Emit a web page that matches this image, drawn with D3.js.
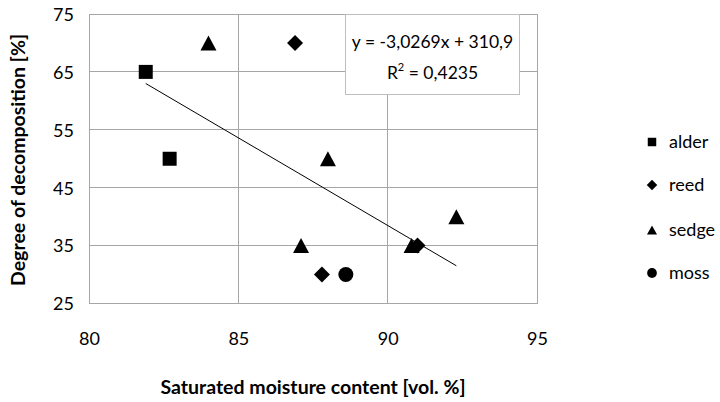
<!DOCTYPE html>
<html><head><meta charset="utf-8">
<script src="https://cdn.jsdelivr.net/npm/d3@7"></script>
<style>body{margin:0;background:#fff}svg{display:block}text{font-family:Lato,"Open Sans",sans-serif}</style>
</head><body><svg id="c" width="720" height="402"></svg>
<script>
const seriesNames = ["alder","reed","sedge","moss"];
const alderX = [81.9, 82.7];
const alderY = [65, 50];
const reedX = [86.9, 87.8, 91.0];
const reedY = [70, 30, 35];
const sedgeX = [84.0, 88.0, 87.1, 92.3, 90.8];
const sedgeY = [70, 50, 35, 40, 35];
const mossX = [88.6];
const mossY = [30];
const xTicks = [80, 85, 90, 95];
const yTicks = [25, 35, 45, 55, 65, 75];
const slope = -3.0269, intercept = 310.9;
const eqText = "y = -3,0269x + 310,9";
const r2Text = " = 0,4235";

const svg = d3.select("#c");
const L = 89, R = 537, T = 14, B = 303.5;
const x = d3.scaleLinear().domain([80,95]).range([L,R]);
const y = d3.scaleLinear().domain([25,75]).range([B,T]);
const grid = "#a6a6a6";
const FS = 18;

// gridlines
svg.append("g").selectAll("line").data(xTicks).join("line")
  .attr("x1",d=>x(d)).attr("x2",d=>x(d)).attr("y1",T).attr("y2",B)
  .attr("stroke",grid).attr("stroke-width",1).attr("shape-rendering","crispEdges");
svg.append("g").selectAll("line").data(yTicks).join("line")
  .attr("x1",L).attr("x2",R).attr("y1",d=>y(d)).attr("y2",d=>y(d))
  .attr("stroke",grid).attr("stroke-width",1).attr("shape-rendering","crispEdges");

// axes labels
const xAxis = d3.axisBottom(x).tickValues(xTicks).tickSize(0).tickPadding(0).tickFormat(d3.format("d"));
const gx = svg.append("g").attr("transform",`translate(0,${B})`).call(xAxis);
gx.select(".domain").remove();
gx.selectAll("text").attr("dy",0).attr("y",41.5).attr("font-size",FS).attr("fill","#000").style("font-family","Lato,sans-serif");
const yAxis = d3.axisLeft(y).tickValues(yTicks).tickSize(0).tickPadding(0).tickFormat(d3.format("d"));
const gy = svg.append("g").attr("transform",`translate(${L},0)`).call(yAxis);
gy.select(".domain").remove();
gy.selectAll("text").attr("x",-15).attr("dy","0.35em").attr("font-size",FS).attr("fill","#000").style("font-family","Lato,sans-serif");

// trendline
const allX = [...alderX,...reedX,...sedgeX,...mossX];
const xmin = d3.min(allX), xmax = d3.max(allX);
svg.append("line").attr("x1",x(xmin)).attr("y1",y(slope*xmin+intercept))
  .attr("x2",x(xmax)).attr("y2",y(slope*xmax+intercept)).attr("stroke","#000").attr("stroke-width",1);

// custom triangle (width w, height h)
const tri = (w,h) => ({draw(ctx){ ctx.moveTo(0,-h/2); ctx.lineTo(w/2,h/2); ctx.lineTo(-w/2,h/2); ctx.closePath(); }});

const sym = {
  alder: d3.symbol(d3.symbolSquare, 196),
  reed: d3.symbol(d3.symbolDiamond2, 163),
  sedge: d3.symbol(tri(16,15)),
  moss: d3.symbol(d3.symbolCircle, 177)
};
const series = [
  {name:"alder", xs:alderX, ys:alderY},
  {name:"reed", xs:reedX, ys:reedY},
  {name:"sedge", xs:sedgeX, ys:sedgeY},
  {name:"moss", xs:mossX, ys:mossY}
];
series.forEach(s=>{
  svg.append("g").selectAll("path").data(s.xs.map((v,i)=>[v,s.ys[i]])).join("path")
    .attr("d",sym[s.name]())
    .attr("transform",d=>`translate(${x(d[0])},${y(d[1])})`)
    .attr("fill","#000");
});

// equation box
const bx = 345.5, by = 14, bw = 174, bh = 80;
svg.append("rect").attr("x",bx).attr("y",by).attr("width",bw).attr("height",bh)
  .attr("fill","#fff").attr("stroke","#bfbfbf").attr("stroke-width",1).attr("shape-rendering","crispEdges");
svg.append("text").attr("x",bx+bw/2).attr("y",48).attr("text-anchor","middle").attr("font-size",17.5).attr("fill","#000").text(eqText);
const r2 = svg.append("text").attr("x",bx+bw/2).attr("y",79).attr("text-anchor","middle").attr("font-size",17.5).attr("fill","#000");
r2.append("tspan").text("R");
r2.append("tspan").attr("dy",-8).attr("font-size",11).text("2");
r2.append("tspan").attr("dy",8).text(r2Text);

// legend
const legY = [142, 185, 230, 273];
const legSym = {
  alder: d3.symbol(d3.symbolSquare, 72),
  reed: d3.symbol(d3.symbolDiamond2, 70),
  sedge: d3.symbol(tri(10,9)),
  moss: d3.symbol(d3.symbolCircle, 75)
};
const lg = svg.append("g").selectAll("g").data(seriesNames).join("g")
  .attr("transform",(d,i)=>`translate(652,${legY[i]})`);
lg.append("path").attr("d",d=>legSym[d]()).attr("fill","#000");
lg.append("text").attr("x",17).attr("dy","0.35em").attr("font-size",FS).attr("fill","#000").text(d=>d);

// axis titles
svg.append("text").attr("x",313).attr("y",394).attr("text-anchor","middle")
  .attr("font-size",19.5).attr("font-weight","bold").attr("fill","#000").text("Saturated moisture content [vol. %]");
svg.append("text").attr("transform","translate(25,160) rotate(-90)").attr("text-anchor","middle")
  .attr("font-size",19.5).attr("font-weight","bold").attr("fill","#000").text("Degree of decomposition [%]");
</script></body></html>
